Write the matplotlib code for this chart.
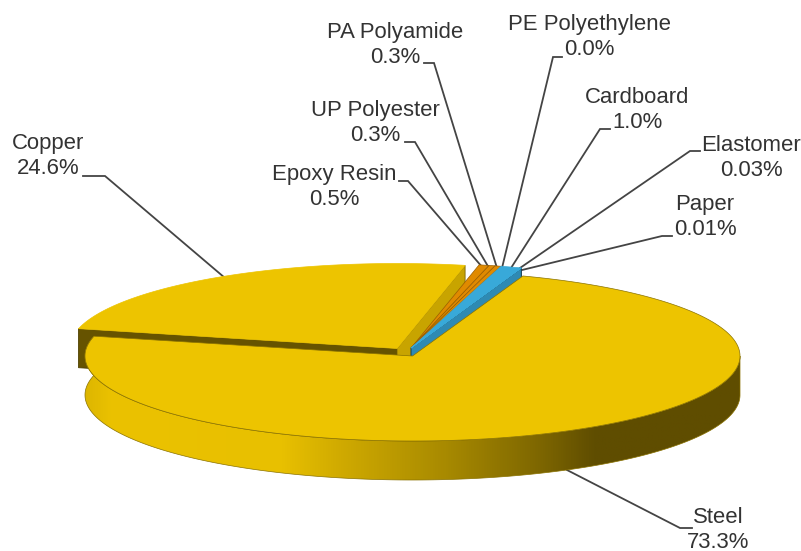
import numpy as np
import matplotlib.pyplot as plt
from matplotlib.patches import Polygon
from matplotlib.colors import LinearSegmentedColormap

plt.rcParams['font.family'] = ['Liberation Sans', 'DejaVu Sans']

# data, in the order the pie runs clockwise from the top of the steel slice
labels = ['Steel', 'Copper', 'Epoxy Resin', 'UP Polyester', 'PA Polyamide',
          'PE Polyethylene', 'Cardboard', 'Elastomer', 'Paper']
shares = [73.3, 24.6, 0.5, 0.3, 0.3, 0.0, 1.0, 0.03, 0.01]
share_text = ['73.3%', '24.6%', '0.5%', '0.3%', '0.3%', '0.0%', '1.0%', '0.03%', '0.01%']
colors = ['#EDC400', '#EDC400', '#E08A00', '#E08A00', '#E08A00', '#E08A00',
          '#38A9D9', '#38A9D9', '#38A9D9']

# label centres and leader lines, in picture pixels
label_xy = [(718, 530), (48, 156), (334, 187), (375, 123), (395, 45),
            (589, 37), (637, 110), (751, 158), (705, 217)]
leaders = [[(692, 528), (680, 528), (567, 470)],
           [(83, 176), (105, 176), (225, 278)],
           [(399, 181), (408, 181), (483, 268)],
           [(405, 142), (415, 142), (489, 268)],
           [(424, 63), (434, 63), (497, 268)],
           [(562, 57), (553, 57), (502, 268)],
           [(610, 129), (600, 129), (511, 268)],
           [(700, 151), (690, 151), (520, 268)],
           [(672, 236), (662, 236), (522, 270)]]

# pie geometry
a, b, depth = 327.5, 85.0, 39.0
start = 70.3
steel_c = (412.5, 356.0)
copper_c = (397.0, 348.5)
small_c = (411.0, 348.0)


def ring(c, deg):
    t = np.radians(np.asarray(deg, dtype=float))
    return np.column_stack([c[0] + a * np.cos(t), c[1] - b * np.sin(t)])


def top_face(c, d0, d1):
    return np.vstack([[c], ring(c, np.linspace(d0, d1, 300))])


def side_face(c, deg):
    p = ring(c, [deg])[0]
    return [c, p, (p[0], p[1] + depth), (c[0], c[1] + depth)]


def gradient_wall(ax, pts, stops, x0, x1, y0, y1, zorder):
    cmap = LinearSegmentedColormap.from_list('wall', stops)
    patch = Polygon(pts, closed=True, fc='none', ec='#8a7200', lw=0.5, zorder=zorder + 0.1)
    ax.add_patch(patch)
    im = ax.imshow(np.linspace(0, 1, 512)[None, :], cmap=cmap, extent=(x0, x1, y1, y0),
                   aspect='auto', zorder=zorder)
    im.set_clip_path(patch)


fig = plt.figure(figsize=(8.01, 5.51), dpi=100)
ax = fig.add_axes([0, 0, 1, 1])

angles = 360.0 * np.array(shares) / sum(shares)
ends = start - np.cumsum(angles)
begins = np.concatenate([[start], ends[:-1]])

# copper: the two cut faces, then the top
ax.add_patch(Polygon(side_face(copper_c, begins[1]), fc='#665300', ec='#4d3f00', lw=0.6, zorder=1))
ax.add_patch(Polygon(side_face(copper_c, ends[1]), fc='#C8A400', ec='#7d6600', lw=0.6, zorder=1))
ax.add_patch(Polygon(top_face(copper_c, begins[1], ends[1]), fc=colors[1], ec=colors[1], lw=0.5, zorder=2))

# small slices sit between copper and steel
ax.add_patch(Polygon(side_face(small_c, start), fc='#2E8AB3', ec='#123c50', lw=0.7, zorder=3))
for i in range(2, len(shares)):
    ax.add_patch(Polygon(top_face(small_c, begins[i], ends[i]), fc=colors[i], ec='#9a5f00' if i < 6 else colors[i],
                         lw=0.5, zorder=4))

# steel: outer wall with the shading left to right, then the top
steel_arc = ring(steel_c, np.linspace(begins[0] - angles[0], 0.0, 400))
wall = np.vstack([steel_arc, (steel_arc + [0, depth])[::-1]])
stops = [(0.0, '#DDB600'), (0.04, '#EBC200'), (0.30, '#E8C000'), (0.40, '#CDA800'),
         (0.55, '#A88A00'), (0.70, '#7C6500'), (0.78, '#5F4D00'), (1.0, '#5F4D00')]
gradient_wall(ax, wall, stops, 85, 740, 340, 490, 5)
ax.add_patch(Polygon(top_face(steel_c, begins[0], ends[0]), fc=colors[0], ec='#8a7200', lw=0.5, zorder=6))

# leaders and labels
for pts in leaders:
    xs, ys = zip(*pts)
    ax.plot(xs, ys, color='#444444', lw=1.3, solid_joinstyle='miter', zorder=1.5)
for name, val, (x, y) in zip(labels, share_text, label_xy):
    ax.text(x, y, f'{name}\n{val}', ha='center', va='center', fontsize=15.9, linespacing=1.2,
            color='#333333', zorder=8)

ax.set_xlim(0, 801)
ax.set_ylim(551, 0)
ax.axis('off')
fig.savefig('out.png', dpi=100)
